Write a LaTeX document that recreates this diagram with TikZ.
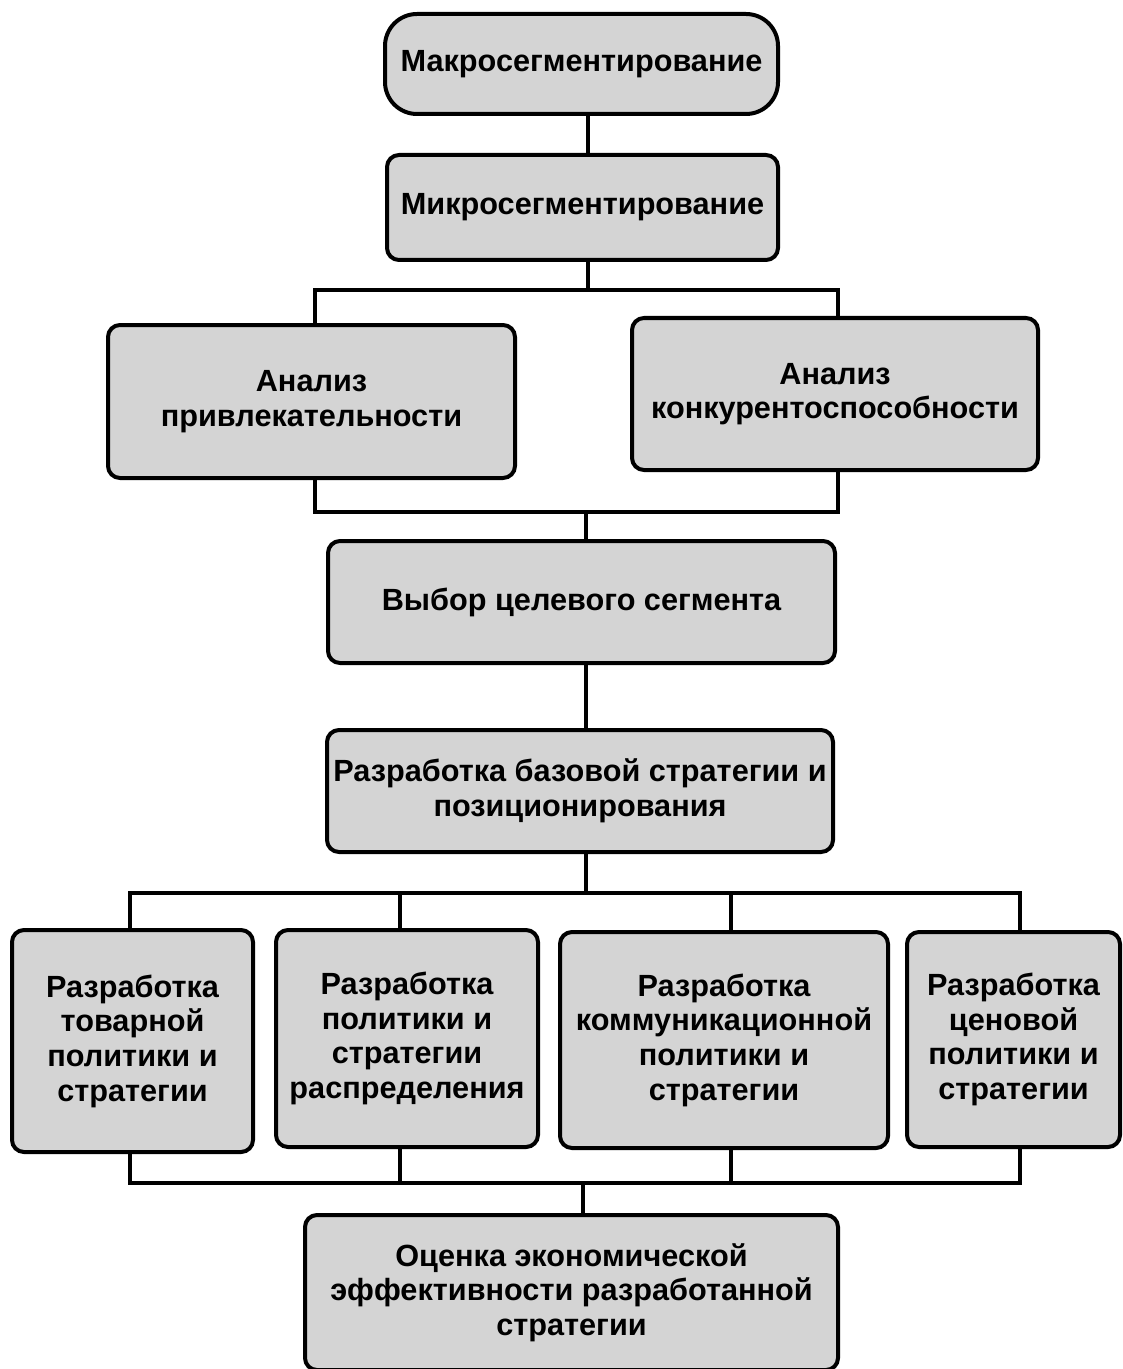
\documentclass[tikz,border=0pt]{standalone}
\usepackage{fontspec}
\setmainfont{Liberation Sans}
\usetikzlibrary{calc}
\tikzset{
  box/.style={draw=black, line width=3pt, fill=boxgray, rounded corners=9pt,
    inner sep=0pt, align=center, font=\bfseries\fontsize{23}{26}\selectfont},
  conn/.style={draw=black, line width=3pt},
}
\definecolor{boxgray}{HTML}{D4D4D4}
\begin{document}
\begin{tikzpicture}[x=0.75pt,y=-0.75pt]
\useasboundingbox[fill=white] (0,0) rectangle (1122,1369);
% nodes
\node[box, rounded corners=24pt, minimum width=393*0.75pt, minimum height=100*0.75pt] (macro) at (581.5,64) {Макросегментирование};
\node[box, minimum width=391*0.75pt, minimum height=105*0.75pt] (micro) at (582.5,207.5) {Микросегментирование};
\node[box, minimum width=407*0.75pt, minimum height=153*0.75pt] (a1) at (311.5,401.5) {Анализ\\привлекательности};
\node[box, minimum width=406*0.75pt, minimum height=152*0.75pt] (a2) at (835,394) {Анализ\\конкурентоспособности};
\node[box, minimum width=507*0.75pt, minimum height=122*0.75pt] (vyb) at (581.5,602) {Выбор целевого сегмента};
\node[box, minimum width=506*0.75pt, minimum height=122*0.75pt] (baz) at (580,791) {Разработка базовой стратегии и\\позиционирования};
\node[box, minimum width=241*0.75pt, minimum height=222*0.75pt] (b1) at (132.5,1041) {Разработка\\товарной\\политики и\\стратегии};
\node[box, minimum width=262*0.75pt, minimum height=217*0.75pt] (b2) at (407,1038.5) {Разработка\\политики и\\стратегии\\распределения};
\node[box, minimum width=328*0.75pt, minimum height=216*0.75pt] (b3) at (724,1040) {Разработка\\коммуникационной\\политики и\\стратегии};
\node[box, minimum width=213*0.75pt, minimum height=215*0.75pt] (b4) at (1013.5,1039.5) {Разработка\\ценовой\\политики и\\стратегии};
\node[box, minimum width=533*0.75pt, minimum height=155*0.75pt] (fin) at (571.5,1292.5) {Оценка экономической\\эффективности разработанной\\стратегии};
% bus coordinates
\coordinate (t1) at (588,290);
\coordinate (t2) at (586,512);
\coordinate (t3) at (586,893);
\coordinate (t4) at (583,1183);
% drop-line x positions
\coordinate (xa1) at (315,0);
\coordinate (xa2) at (838,0);
\coordinate (x1) at (130,0);
\coordinate (x2) at (400,0);
\coordinate (x3) at (731,0);
\coordinate (x4) at (1020,0);
% connectors
\draw[conn] (t1 |- macro.south) -- (t1 |- micro.north);
\draw[conn] (t1 |- micro.south) -- (t1);
\draw[conn] (a1.north -| xa1) |- (t1);
\draw[conn] (a2.north -| xa2) |- (t1);
\draw[conn] (a1.south -| xa1) |- (t2);
\draw[conn] (a2.south -| xa2) |- (t2);
\draw[conn] (t2) -- (t2 |- vyb.north);
\draw[conn] (t2 |- vyb.south) -- (t2 |- baz.north);
\draw[conn] (t3 |- baz.south) -- (t3);
\draw[conn] (b1.north -| x1) |- (t3);
\draw[conn] (b2.north -| x2) |- (t3);
\draw[conn] (b3.north -| x3) |- (t3);
\draw[conn] (b4.north -| x4) |- (t3);
\draw[conn] (b1.south -| x1) |- (t4);
\draw[conn] (b2.south -| x2) |- (t4);
\draw[conn] (b3.south -| x3) |- (t4);
\draw[conn] (b4.south -| x4) |- (t4);
\draw[conn] (t4) -- (t4 |- fin.north);
\end{tikzpicture}
\end{document}
